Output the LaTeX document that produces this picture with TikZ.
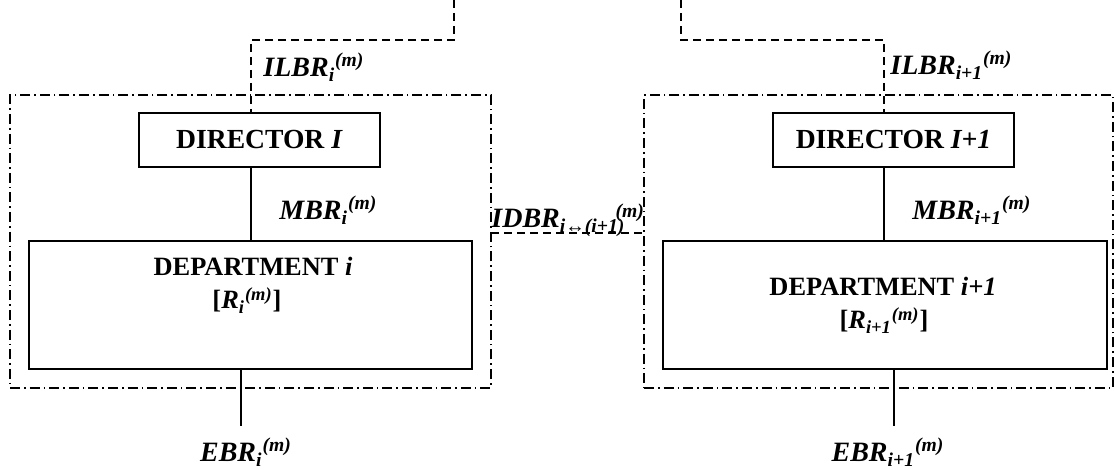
\documentclass[tikz,border=0pt]{standalone}
\usepackage{fontspec}
\setmainfont{Liberation Serif}
\newcommand{\brate}[2]{\textbf{\textit{#1}}\textsubscript{\textbf{\textit{#2}}}\textsuperscript{\textbf{\textit{(m)}}}}
\begin{document}
\begin{tikzpicture}[
    x=0.5pt, y=-0.5pt,
    box/.style={rectangle, draw, line width=0.8pt, inner sep=0pt, font=\bfseries\fontsize{13.8}{16}\selectfont},
    txt/.style={inner sep=0pt, font=\fontsize{14}{16}\selectfont},
    deptxt/.style={inner sep=0pt, anchor=base, font=\bfseries\fontsize{13.2}{16}\selectfont},
    link/.style={line width=0.8pt},
    dashlink/.style={line width=0.8pt, dash pattern=on 4pt off 2.5pt},
    group/.style={rectangle, draw, line width=0.8pt, dash pattern=on 5pt off 2pt on 0.8pt off 2pt}
]
\useasboundingbox (0,0) rectangle (1115,470);

% Groups
\node[group, minimum width=240.5pt, minimum height=146.5pt] (grp1) at (250.5,241.5) {};
\node[group, minimum width=234.5pt, minimum height=146.5pt] (grp2) at (878.5,241.5) {};

% Directors
\node[box, minimum width=120.5pt, minimum height=27pt] (dir1) at (259.5,140) {DIRECTOR \textit{I}};
\node[box, minimum width=120.5pt, minimum height=27pt] (dir2) at (893.5,140) {DIRECTOR \textit{I+1}};

% Departments
\node[box, minimum width=221.5pt, minimum height=64pt] (dep1) at (250.5,305) {};
\node[box, minimum width=222pt, minimum height=64pt] (dep2) at (885,305) {};
\node[deptxt] (dep1a) at (253,276) {DEPARTMENT \textit{i}};
\node[deptxt] (dep1b) at (247,309) {[\textit{R}\textsubscript{\textit{i}}\textsuperscript{\textit{(m)}}]};
\node[deptxt] (dep2a) at (883,296) {DEPARTMENT \textit{i+1}};
\node[deptxt] (dep2b) at (884,329) {[\textit{R}\textsubscript{\textit{i+1}}\textsuperscript{\textit{(m)}}]};

% Inputs from above
\coordinate (top1) at (454,0);
\coordinate (bend1) at (251,40);
\coordinate (top2) at (681,0);
\coordinate (bend2) at (884,40);
\draw[dashlink] (top1) |- (bend1) -- (bend1 |- dir1.north);
\draw[dashlink] (top2) |- (bend2) -- (bend2 |- dir2.north);

% Director to department
\draw[link] (bend1 |- dir1.south) -- (bend1 |- dep1.north);
\draw[link] (bend2 |- dir2.south) -- (bend2 |- dep2.north);

% Outputs below
\coordinate (ext1) at (241,426);
\coordinate (ext2) at (894,426);
\draw[link] (ext1 |- dep1.south) -- (ext1);
\draw[link] (ext2 |- dep2.south) -- (ext2);

% Between departments
\coordinate (idb) at (491,233);
\draw[dashlink] (idb) -- (idb -| grp2.west);

% Labels
\node[txt, anchor=west] (ilbr1) at (263,67) {\brate{ILBR}{i}};
\node[txt, anchor=west] (mbr1) at (279,210) {\brate{MBR}{i}};
\node[txt] (ebr1) at (246,452) {\brate{EBR}{i}};
\node[txt, anchor=west] (ilbr2) at (890,65) {\brate{ILBR}{i+1}};
\node[txt, anchor=west] (mbr2) at (912,210) {\brate{MBR}{i+1}};
\node[txt] (ebr2) at (888,452) {\brate{EBR}{i+1}};
\node[txt, anchor=base west] (idbr) at (491,228) {\textbf{\textit{IDBR}}\textsubscript{\textbf{\textit{i↔(i+1)}}}\kern-0.35em\textsuperscript{\textbf{\textit{(m)}}}};

\end{tikzpicture}
\end{document}
